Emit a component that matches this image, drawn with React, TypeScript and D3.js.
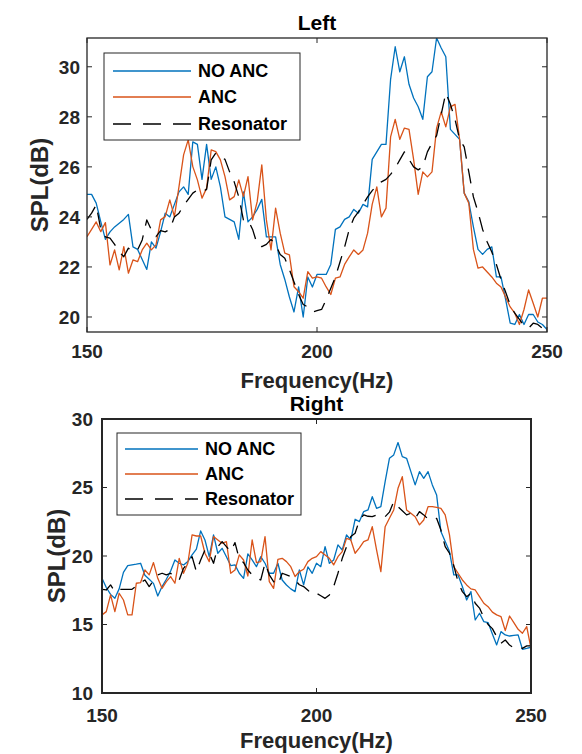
import React from "react";
import * as d3 from "d3";

// Frequency grid (Hz), 1 Hz resolution
const FREQ_START = 150;
const FREQ_END = 250;

const LEFT_NO_ANC = [
  24.9, 24.9, 24.55, 23.8, 23.1, 23.4, 23.6, 23.75, 23.9, 24.1,
  22.8, 22.7, 22.3, 21.9, 23.0, 22.75, 23.4, 24.15, 24.0, 24.5,
  25.0, 25.2, 24.9, 27.0, 26.9, 25.5, 26.9, 25.5, 26.0, 25.2,
  24.0, 23.9, 23.8, 23.1, 25.0, 23.8, 24.0, 24.3, 24.7, 23.2,
  23.2, 23.2, 22.1, 21.5, 20.8, 20.2, 21.2, 20.0, 21.6, 21.2,
  21.7, 21.7, 21.7, 22.1, 23.5, 23.6, 23.9, 24.0, 24.3, 24.15,
  24.5, 24.4, 26.3, 26.6, 26.9, 26.9, 29.5, 30.8, 29.8, 30.4,
  29.3, 28.75, 28.4, 27.9, 29.6, 29.8, 31.15, 30.75, 30.4, 27.5,
  27.3, 27.1, 24.95, 24.6, 23.6, 22.7, 22.5, 22.7, 22.8, 21.6,
  21.6, 20.7, 19.75, 19.7, 20.1, 19.7, 20.1, 20.1, 19.8, 19.7,
  19.5,
];

const LEFT_ANC = [
  23.21, 23.5, 23.8, 23.41, 23.77, 22.08, 22.68, 21.88, 22.81, 21.75,
  22.28, 22.21, 22.68, 22.95, 22.68, 22.88, 23.88, 24.01, 24.68, 24.01,
  25.21, 26.48, 27.08, 26.01, 25.48, 24.75, 25.15, 26.68, 26.61, 26.28,
  25.61, 24.68, 24.81, 25.48, 24.81, 25.61, 23.88, 24.61, 26.08, 23.88,
  22.68, 24.35, 23.35, 22.55, 22.48, 21.21, 21.01, 20.75, 21.81, 21.55,
  21.6, 21.55, 21.2, 20.9, 21.55, 21.6, 22.1, 22.4, 22.68, 22.5,
  22.68, 23.35, 24.5, 25.2, 24.0, 24.35, 27.2, 27.9, 27.1, 27.55,
  27.5, 26.3, 24.9, 25.8, 25.6, 25.8, 27.55, 28.2, 27.6, 28.4,
  28.5, 27.1, 24.95, 24.55, 22.7, 21.95, 22.0, 21.8, 21.6, 21.35,
  21.2, 20.8, 20.4, 20.15, 19.7, 20.3, 21.08, 20.55, 20.0, 20.75,
  20.75,
];

const LEFT_RESONATOR = [
  23.9, 24.15, 24.48, 23.5, 23.2, 23.15, 22.9, 22.6, 22.41, 22.75,
  22.61, 22.68, 23.08, 23.88, 23.48, 23.21, 23.45, 23.4, 23.5, 24.0,
  24.15, 24.45, 24.7, 24.95, 25.08, 25.0, 25.1, 26.28, 26.55, 26.41,
  26.3, 25.8, 25.4, 24.8, 23.88, 23.88, 23.5, 22.9, 22.81, 22.9,
  23.1, 22.9, 22.5, 22.35, 21.9, 21.4, 20.9, 20.5, 20.4, 20.2,
  20.25, 20.3, 20.7, 21.15, 21.6, 22.2, 22.8, 23.5, 23.95, 24.2,
  24.5, 24.8, 25.05, 25.25, 25.4, 25.5, 25.7, 25.95, 26.28, 26.6,
  26.3, 26.0, 25.88, 26.0, 26.6, 26.95, 27.25, 28.1, 28.95, 28.5,
  27.9, 27.1, 26.8, 25.8, 24.8, 24.2, 23.5, 23.0, 22.6, 22.1,
  21.5, 21.0, 20.48, 20.15, 19.9, 19.65, 19.55, 19.75, 19.7, 19.55,
  19.45,
];

const RIGHT_NO_ANC = [
  18.37, 17.7, 17.2, 16.91, 17.6, 18.8, 19.3, 19.35, 19.4, 19.47,
  18.6, 18.3, 18.0, 17.08, 17.77, 18.3, 18.9, 19.71, 19.47, 19.35,
  19.59, 20.08, 20.5, 21.83, 21.17, 19.95, 21.54, 20.2, 20.56, 19.95,
  19.3, 19.35, 18.74, 18.37, 20.15, 19.71, 19.22, 19.95, 19.47, 18.74,
  18.74, 19.47, 18.25, 17.88, 17.6, 17.4, 18.98, 17.89, 19.2, 18.74,
  19.47, 19.22, 20.68, 19.47, 19.71, 20.81, 20.44, 21.54, 21.17, 22.68,
  22.51, 23.24, 23.36, 24.33, 23.48, 23.6, 25.43, 27.13, 27.38, 28.28,
  27.25, 27.13, 26.16, 25.19, 26.16, 25.67, 26.16, 25.19, 24.46, 21.78,
  21.05, 20.32, 18.62, 18.62, 17.77, 16.79, 17.4, 15.33, 15.82, 15.21,
  15.14, 14.3, 13.51, 14.48, 14.24, 14.16, 14.2, 14.24, 13.19, 13.26,
  13.34,
];

const RIGHT_ANC = [
  15.7, 15.94, 17.16, 15.94, 17.28, 16.79, 15.7, 15.7, 18.01, 18.06,
  18.98, 18.62, 19.52, 18.37, 17.64, 18.13, 18.5, 18.01, 19.83, 18.74,
  19.47, 21.54, 21.46, 21.46, 20.2, 19.59, 21.42, 21.17, 20.93, 21.05,
  18.74, 18.98, 20.08, 19.71, 18.54, 21.17, 19.52, 19.59, 21.42, 18.13,
  17.64, 19.76, 19.83, 19.59, 19.22, 18.5, 18.86, 19.03, 19.59, 19.83,
  19.95, 20.32, 20.08, 19.83, 19.35, 19.95, 20.32, 21.29, 21.17, 20.2,
  20.6, 21.05, 21.17, 22.14, 20.44, 18.86, 22.14, 22.75, 23.36, 24.94,
  25.79, 23.36, 23.12, 22.87, 22.27, 22.63, 23.6, 23.6, 23.55, 23.48,
  23.0, 21.54, 19.22, 18.74, 18.25, 17.89, 17.6, 17.52, 17.03, 16.55,
  16.3, 15.9, 15.7, 15.58, 14.55, 15.62, 15.14, 14.65, 14.36, 14.85,
  13.26,
];

const RIGHT_RESONATOR = [
  17.57, 17.52, 17.89, 17.4, 17.57, 17.57, 17.57, 17.57, 17.8, 18.06,
  18.25, 17.77, 18.2, 18.62, 18.74, 18.62, 18.74, 18.4, 18.25, 19.1,
  19.47, 19.95, 18.86, 19.71, 20.44, 20.2, 19.47, 20.68, 21.05, 20.68,
  20.32, 20.98, 19.76, 19.52, 18.98, 18.62, 18.4, 18.25, 19.47, 18.62,
  18.13, 17.89, 18.74, 18.62, 18.5, 18.25, 17.9, 17.77, 17.5, 17.2,
  17.28, 17.1, 16.91, 17.16, 17.77, 18.74, 19.83, 20.68, 21.42, 21.66,
  22.63, 23.0, 22.9, 22.87, 23.0, 22.87, 22.87, 23.2, 23.97, 23.6,
  23.3, 23.0, 23.12, 22.75, 23.24, 23.0, 22.7, 22.6, 22.75, 21.9,
  20.68, 20.2, 19.3, 18.1, 17.4, 17.03, 17.28, 16.55, 16.2, 15.5,
  15.0, 14.7, 14.12, 13.63, 13.87, 13.5, 13.3, 13.39, 13.26, 13.44,
  13.44,
];

const X_TICKS = [150, 200, 250];
const LEFT_Y_TICKS = [20, 22, 24, 26, 28, 30];
const RIGHT_Y_TICKS = [10, 15, 20, 25, 30];
const SERIES_NAMES = ["NO ANC", "ANC", "Resonator"];
const SERIES_COLORS = ["#0072BD", "#D95319", "#000000"];

const FONT = "'Liberation Sans', Arial, Helvetica, sans-serif";
const AXIS_COLOR = "#262626";

type PanelProps = {
  id: string;
  title: string;
  series: number[][];
  yDomain: [number, number];
  yTicks: number[];
  box: { x0: number; x1: number; y0: number; y1: number };
  frameWidth: number;
  titleY: number;
  tickLabelY: number;
  yTickLabelX: number;
  xLabelY: number;
  yLabelX: number;
  legend: { x: number; y: number; w: number; h: number; rows: number[]; lx0: number; lx1: number; tx: number };
};

function Panel(p: PanelProps) {
  const freqs = d3.range(FREQ_START, FREQ_END + 1);
  const x = d3.scaleLinear().domain([FREQ_START, FREQ_END]).range([p.box.x0, p.box.x1]);
  const y = d3.scaleLinear().domain(p.yDomain).range([p.box.y1, p.box.y0]);
  const line = d3
    .line<number>()
    .x((_, i) => x(freqs[i]))
    .y((d) => y(d));
  const cx = (p.box.x0 + p.box.x1) / 2;
  const cy = (p.box.y0 + p.box.y1) / 2;
  const tl = 5;
  return (
    <g>
      <defs>
        <clipPath id={p.id}>
          <rect x={p.box.x0} y={p.box.y0} width={p.box.x1 - p.box.x0} height={p.box.y1 - p.box.y0} />
        </clipPath>
      </defs>
      <g clipPath={`url(#${p.id})`}>
        {p.series.map((s, i) => (
          <path
            key={i}
            d={line(s) || ""}
            fill="none"
            stroke={SERIES_COLORS[i]}
            strokeWidth={1.3}
            strokeDasharray={i === 2 ? "15 10" : undefined}
            strokeLinejoin="round"
          />
        ))}
      </g>
      <rect
        x={p.box.x0}
        y={p.box.y0}
        width={p.box.x1 - p.box.x0}
        height={p.box.y1 - p.box.y0}
        fill="none"
        stroke={AXIS_COLOR}
        strokeWidth={p.frameWidth}
      />
      {X_TICKS.map((t) => (
        <g key={"xt" + t}>
          <line x1={x(t)} x2={x(t)} y1={p.box.y1} y2={p.box.y1 - tl} stroke={AXIS_COLOR} strokeWidth={1} />
          <line x1={x(t)} x2={x(t)} y1={p.box.y0} y2={p.box.y0 + tl} stroke={AXIS_COLOR} strokeWidth={1} />
          <text
            x={x(t)}
            y={p.tickLabelY}
            textAnchor="middle"
            fontFamily={FONT}
            fontWeight="bold"
            fontSize={19}
            fill={AXIS_COLOR}
          >
            {t}
          </text>
        </g>
      ))}
      {p.yTicks.map((t) => (
        <g key={"yt" + t}>
          <line x1={p.box.x0} x2={p.box.x0 + tl} y1={y(t)} y2={y(t)} stroke={AXIS_COLOR} strokeWidth={1} />
          <line x1={p.box.x1} x2={p.box.x1 - tl} y1={y(t)} y2={y(t)} stroke={AXIS_COLOR} strokeWidth={1} />
          <text
            x={p.yTickLabelX}
            y={y(t)}
            dy="0.36em"
            textAnchor="end"
            fontFamily={FONT}
            fontWeight="bold"
            fontSize={19}
            fill={AXIS_COLOR}
          >
            {t}
          </text>
        </g>
      ))}
      <text x={cx} y={p.titleY} textAnchor="middle" fontFamily={FONT} fontWeight="bold" fontSize={21} fill="#000">
        {p.title}
      </text>
      <text x={cx} y={p.xLabelY} textAnchor="middle" fontFamily={FONT} fontWeight="bold" fontSize={22} fill={AXIS_COLOR}>
        Frequency(Hz)
      </text>
      <text
        transform={`translate(${p.yLabelX},${cy}) rotate(-90)`}
        textAnchor="middle"
        fontFamily={FONT}
        fontWeight="bold"
        fontSize={24}
        fill={AXIS_COLOR}
      >
        SPL(dB)
      </text>
      <rect x={p.legend.x} y={p.legend.y} width={p.legend.w} height={p.legend.h} fill="#fff" stroke={AXIS_COLOR} strokeWidth={1} />
      {SERIES_NAMES.map((name, i) => (
        <g key={name}>
          <line
            x1={p.legend.lx0}
            x2={p.legend.lx1}
            y1={p.legend.rows[i]}
            y2={p.legend.rows[i]}
            stroke={SERIES_COLORS[i]}
            strokeWidth={1.3}
            strokeDasharray={i === 2 ? "18 12" : undefined}
          />
          <text
            x={p.legend.tx}
            y={p.legend.rows[i]}
            dy="0.36em"
            fontFamily={FONT}
            fontWeight="bold"
            fontSize={18}
            fill="#000"
          >
            {name}
          </text>
        </g>
      ))}
    </g>
  );
}

export default function App() {
  return (
    <svg
      width={582}
      height={754}
      style={{ position: "absolute", left: 0, top: 0, background: "#fff" }}
    >
      <rect x={0} y={0} width={582} height={754} fill="#fff" />
      <Panel
        id="clipLeft"
        title="Left"
        series={[LEFT_NO_ANC, LEFT_ANC, LEFT_RESONATOR]}
        yDomain={[19.4, 31.15]}
        yTicks={LEFT_Y_TICKS}
        box={{ x0: 87, x1: 547, y0: 38, y1: 332 }}
        frameWidth={1.3}
        titleY={30}
        tickLabelY={358}
        yTickLabelX={80}
        xLabelY={388}
        yLabelX={48}
        legend={{ x: 104, y: 53, w: 196, h: 87, rows: [71, 97, 124], lx0: 113, lx1: 191, tx: 198 }}
      />
      <Panel
        id="clipRight"
        title="Right"
        series={[RIGHT_NO_ANC, RIGHT_ANC, RIGHT_RESONATOR]}
        yDomain={[10, 30]}
        yTicks={RIGHT_Y_TICKS}
        box={{ x0: 102, x1: 531, y0: 419, y1: 693 }}
        frameWidth={2}
        titleY={411}
        tickLabelY={722}
        yTickLabelX={93}
        xLabelY={748}
        yLabelX={65}
        legend={{ x: 117, y: 433, w: 184, h: 82, rows: [449, 474, 499], lx0: 125, lx1: 198, tx: 205 }}
      />
    </svg>
  );
}
